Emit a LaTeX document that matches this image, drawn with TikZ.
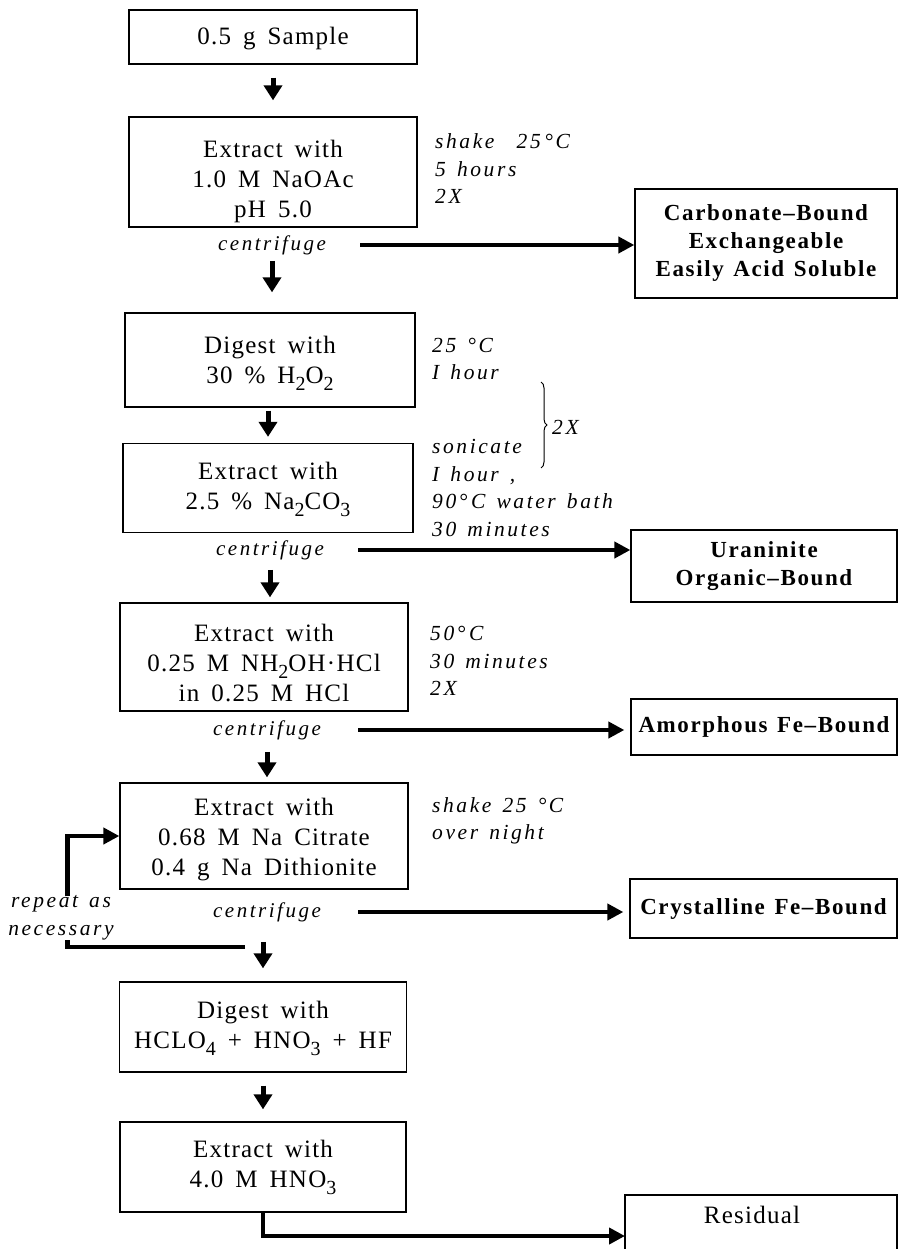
\documentclass[tikz,border=0pt]{standalone}
\usepackage{fontspec}
\setmainfont{Liberation Serif}
\newfontfamily\boxfont[LetterSpace=5,WordSpace=1.6]{Liberation Serif}
\newfontfamily\sidefont[LetterSpace=12,WordSpace=1.4]{Liberation Serif}
\newfontfamily\resfont[LetterSpace=7,WordSpace=1.3]{Liberation Serif}
\usetikzlibrary{arrows.meta,decorations.pathreplacing}
\newcommand{\mysub}[1]{\raisebox{-0.6ex}{\fontsize{20}{20}\selectfont #1}}
\tikzset{
  box/.style={draw, line width=1.3pt, inner sep=0pt},
  boxtext/.style={inner sep=0pt, align=center, font=\boxfont\fontsize{25}{30}\selectfont},
  resbox/.style={draw, line width=1.3pt, inner sep=0pt, align=center,
    font=\resfont\bfseries\fontsize{23}{28}\selectfont},
  side/.style={anchor=west, inner sep=0pt, align=left,
    font=\sidefont\itshape\fontsize{21.5}{27.5}\selectfont},
  cent/.style={inner sep=0pt, font=\sidefont\itshape\fontsize{21}{27}\selectfont},
  darr/.style={line width=5pt, -{Triangle[width=18pt,length=15pt]}},
  harr/.style={line width=4.5pt, line join=miter, -{Triangle[width=16pt,length=16pt]}}
}
\begin{document}
\begin{tikzpicture}[x=1pt,y=-1pt]
\useasboundingbox (0,0) rectangle (898,1249);
% process boxes
\node[box, minimum width=288pt, minimum height=54pt] (b1) at (273,37) {};
\node[boxtext] (b1t) at (273,39) {0.5 g Sample};
\node[box, minimum width=288pt, minimum height=110pt] (b2) at (273,172) {};
\node[boxtext] (b2t) at (273,181) {Extract with\\1.0 M NaOAc\\pH 5.0};
\node[box, minimum width=290pt, minimum height=94pt] (b3) at (270,360) {};
\node[boxtext] (b3t) at (270,363) {Digest with\\30 \% H\mysub{2}O\mysub{2}};
\node[box, minimum width=290pt, minimum height=89pt] (b4) at (268,488) {};
\node[boxtext] (b4t) at (268,489) {Extract with\\2.5 \% Na\mysub{2}CO\mysub{3}};
\node[box, minimum width=288pt, minimum height=108pt] (b5) at (264,657) {};
\node[boxtext] (b5t) at (264,663) {Extract with\\0.25 M NH\mysub{2}OH·HCl\\in 0.25 M HCl};
\node[box, minimum width=288pt, minimum height=106pt] (b6) at (264,836) {};
\node[boxtext] (b6t) at (264,840) {Extract with\\0.68 M Na Citrate\\0.4 g Na Dithionite};
\node[box, minimum width=287pt, minimum height=90pt] (b7) at (263,1027) {};
\node[boxtext] (b7t) at (263,1028) {Digest with\\HCLO\mysub{4} + HNO\mysub{3} + HF};
\node[box, minimum width=286pt, minimum height=90pt] (b8) at (263,1167) {};
\node[boxtext] (b8t) at (263,1167) {Extract with\\4.0 M HNO\mysub{3}};
% result boxes
\node[resbox, minimum width=262pt, minimum height=109pt] (r1) at (766,243.5) {Carbonate–Bound\\Exchangeable\\Easily Acid Soluble};
\node[resbox, minimum width=266pt, minimum height=72pt] (r2) at (764,566) {Uraninite\\Organic–Bound};
\node[resbox, minimum width=266pt, minimum height=56pt] (r3) at (764,727) {Amorphous Fe–Bound};
\node[resbox, minimum width=267pt, minimum height=59pt] (r4) at (763.5,908.5) {Crystalline Fe–Bound};
\draw[line width=1.3pt] (625,1250) |- (897,1195) -- (897,1250);
\node[boxtext] (res) at (752,1215) {Residual};
\coordinate (resin) at (625,1236);
% side notes
\node[side] (s2) at (435,169) {shake\ \ 25\,°C\\5 hours\\2X};
\node[side] (s3) at (432,359) {25 °C\\I hour};
\node[side] (s4) at (432,488) {sonicate\\I hour ,\\90°\,C water bath\\30 minutes};
\node[side] (s5) at (430,661) {50°\,C\\30 minutes\\2X};
\node[side] (s6) at (432,821) {shake 25 °C\\over night};
\draw[line width=1pt, decorate, decoration={brace, amplitude=6pt}] (541,382) -- (541,468);
\node[side] (twox) at (552,427) {2X};
% centrifuge labels
\node[cent] (c2) at (272,245) {centrifuge};
\node[cent] (c4) at (270,550) {centrifuge};
\node[cent] (c5) at (267,730) {centrifuge};
\node[cent] (c6) at (267,912) {centrifuge};
% vertical arrows
\draw[darr] ([yshift=-13pt]b1.south) -- ([yshift=16pt]b2.north);
\draw[darr] ([yshift=-6pt]c2.south) -- ([yshift=20pt]b3.north -| c2.south);
\draw[darr] ([yshift=-3pt]b3.south -| b4.north) -- ([yshift=6pt]b4.north);
\draw[darr] ([yshift=-10pt]c4.south) -- ([yshift=5pt]b5.north -| c4.south);
\draw[darr] ([yshift=-12pt]c5.south) -- ([yshift=5pt]b6.north -| c5.south);
\draw[darr] ([yshift=-20pt]c6.south -| b7.north) -- ([yshift=13pt]b7.north);
\draw[darr] ([yshift=-13pt]b7.south) -- ([yshift=12pt]b8.north);
% horizontal arrows
\draw[harr] ([xshift=34pt]c2.east) -- (c2.east -| r1.west);
\draw[harr] ([xshift=34pt]c4.east) -- (c4.east -| r2.west);
\draw[harr] ([xshift=37pt]c5.east) -- ([xshift=-6pt]c5.east -| r3.west);
\draw[harr] ([xshift=37pt]c6.east) -- ([xshift=-6pt]c6.east -| r4.west);
% repeat loop
\coordinate (lp) at (245,947);
\draw[harr] (lp) -| ([xshift=-52pt]b6.west) -- (b6.west);
\node[side, anchor=center, align=center, fill=white] (rep) at (61,918) {repeat as\\necessary};
% final
\draw[harr, line width=4pt] (b8.south) |- (resin);
\end{tikzpicture}
\end{document}
